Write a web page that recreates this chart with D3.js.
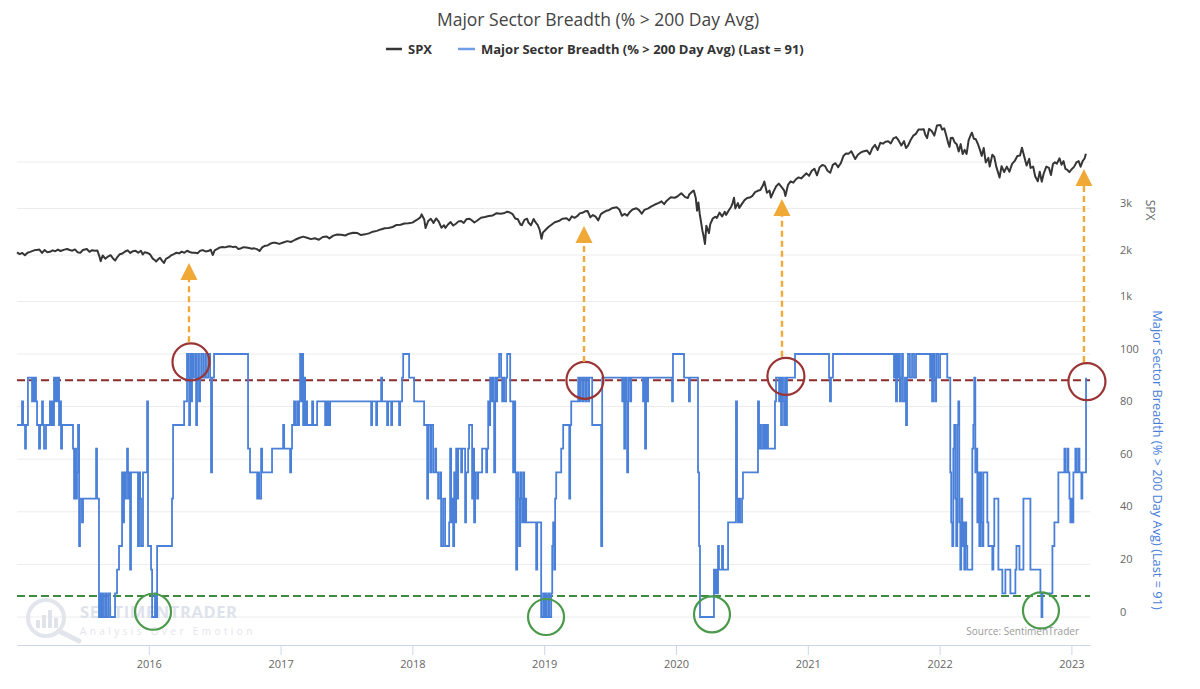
<!DOCTYPE html>
<html><head><meta charset="utf-8">
<script src="https://cdn.jsdelivr.net/npm/d3@7"></script>
<style>
body{margin:0;background:#fff;}
svg{display:block;font-family:"Open Sans",sans-serif;}
</style>
</head><body>
<svg id="c" width="1200" height="689"></svg>
<script>
// ---------------- DATA ----------------
const titleText = "Major Sector Breadth (% > 200 Day Avg)";
const seriesNames = ["SPX", "Major Sector Breadth (% > 200 Day Avg) (Last = 91)"];
const yearTicks = [2016, 2017, 2018, 2019, 2020, 2021, 2022, 2023];
const spxTicks = [1000, 2000, 3000];
const spxGrid = [1000, 2000, 3000, 4000];
const breadthTicks = [0, 20, 40, 60, 80, 100];
const upperThreshold = 90;
const lowerThreshold = 8;

// SPX: [decimal year, close]
const spx = [
[2015.00,2058],[2015.02,2020],[2015.04,2045],[2015.06,1995],[2015.08,2050],[2015.10,2068],[2015.13,2100],[2015.15,2110],
[2015.17,2117],[2015.19,2044],[2015.21,2108],[2015.23,2061],[2015.25,2068],[2015.27,2100],[2015.29,2081],[2015.31,2117],
[2015.33,2086],[2015.36,2116],[2015.38,2130],[2015.40,2107],[2015.42,2092],[2015.44,2120],[2015.46,2058],[2015.48,2046],
[2015.50,2108],[2015.53,2128],[2015.55,2068],[2015.57,2104],[2015.59,2091],[2015.61,2096],[2015.625,1971],[2015.635,1868],
[2015.65,1989],[2015.67,1921],[2015.69,1966],[2015.71,1995],[2015.73,1921],[2015.745,1881],[2015.76,1951],[2015.78,2017],
[2015.80,2033],[2015.82,2075],[2015.84,2100],[2015.86,2045],[2015.88,2083],[2015.90,2089],[2015.92,2049],[2015.94,2091],
[2015.955,2012],[2015.97,2060],[2015.99,2044],[2016.01,2012],[2016.03,1922],[2016.05,1881],[2016.055,1859],[2016.07,1906],
[2016.085,1940],[2016.10,1880],[2016.115,1829],[2016.13,1917],[2016.15,1948],[2016.17,1993],[2016.19,2019],[2016.21,2050],
[2016.23,2035],[2016.25,2072],[2016.27,2047],[2016.29,2091],[2016.31,2065],[2016.33,2050],[2016.35,2048],[2016.37,2040],
[2016.39,2090],[2016.41,2105],[2016.43,2077],[2016.45,2085],[2016.47,2113],[2016.485,2000],[2016.50,2099],[2016.52,2130],
[2016.54,2163],[2016.56,2170],[2016.58,2164],[2016.60,2182],[2016.62,2186],[2016.64,2170],[2016.66,2180],[2016.68,2127],
[2016.70,2146],[2016.72,2168],[2016.74,2160],[2016.76,2153],[2016.78,2133],[2016.80,2143],[2016.82,2126],[2016.84,2085],
[2016.86,2164],[2016.88,2198],[2016.90,2204],[2016.92,2241],[2016.94,2262],[2016.96,2263],[2016.99,2239],[2017.02,2270],
[2017.05,2298],[2017.08,2280],[2017.11,2328],[2017.14,2365],[2017.17,2395],[2017.20,2372],[2017.23,2341],[2017.26,2359],
[2017.29,2328],[2017.32,2388],[2017.35,2399],[2017.37,2357],[2017.40,2416],[2017.43,2440],[2017.46,2434],[2017.49,2419],
[2017.52,2459],[2017.55,2477],[2017.58,2475],[2017.61,2428],[2017.64,2444],[2017.67,2465],[2017.70,2502],[2017.73,2519],
[2017.76,2550],[2017.79,2575],[2017.82,2582],[2017.85,2602],[2017.88,2647],[2017.91,2652],[2017.94,2679],[2017.97,2683],
[2018.00,2696],[2018.03,2748],[2018.06,2810],[2018.07,2873],[2018.09,2762],[2018.10,2581],[2018.12,2731],[2018.14,2779],
[2018.16,2691],[2018.18,2786],[2018.20,2717],[2018.22,2588],[2018.24,2641],[2018.25,2582],[2018.27,2656],[2018.29,2708],
[2018.31,2634],[2018.33,2672],[2018.35,2723],[2018.37,2733],[2018.39,2689],[2018.41,2770],[2018.43,2780],[2018.45,2749],
[2018.47,2699],[2018.49,2736],[2018.52,2801],[2018.55,2818],[2018.58,2840],[2018.61,2850],[2018.64,2900],[2018.67,2888],
[2018.70,2905],[2018.72,2931],[2018.74,2914],[2018.76,2880],[2018.78,2785],[2018.80,2768],[2018.82,2656],[2018.83,2641],
[2018.85,2755],[2018.87,2781],[2018.88,2700],[2018.90,2641],[2018.92,2775],[2018.935,2700],[2018.95,2650],[2018.965,2546],
[2018.98,2351],[2018.99,2485],[2019.00,2510],[2019.03,2596],[2019.05,2640],[2019.08,2704],[2019.11,2731],[2019.14,2780],
[2019.17,2790],[2019.19,2743],[2019.21,2832],[2019.23,2800],[2019.25,2834],[2019.27,2895],[2019.29,2907],[2019.31,2940],
[2019.33,2945],[2019.35,2812],[2019.37,2859],[2019.39,2826],[2019.41,2744],[2019.43,2880],[2019.45,2917],[2019.47,2950],
[2019.49,2964],[2019.52,3013],[2019.55,3025],[2019.57,2980],[2019.59,2844],[2019.61,2883],[2019.63,2847],[2019.65,2926],
[2019.67,2979],[2019.70,3006],[2019.72,2966],[2019.74,2887],[2019.76,2970],[2019.79,3004],[2019.81,3040],[2019.84,3085],
[2019.87,3120],[2019.89,3153],[2019.91,3093],[2019.93,3168],[2019.96,3240],[2019.99,3231],[2020.01,3258],[2020.04,3329],
[2020.07,3244],[2020.09,3226],[2020.10,3300],[2020.13,3380],[2020.135,3386],[2020.15,3225],[2020.16,2954],[2020.17,3130],
[2020.18,2882],[2020.19,2711],[2020.20,2529],[2020.21,2398],[2020.22,2237],[2020.23,2630],[2020.25,2470],[2020.26,2663],
[2020.28,2790],[2020.30,2823],[2020.31,2797],[2020.33,2912],[2020.35,2830],[2020.37,2930],[2020.38,2863],[2020.40,2955],
[2020.42,3044],[2020.43,3122],[2020.44,3232],[2020.45,3002],[2020.47,3117],[2020.48,3009],[2020.50,3100],[2020.52,3180],
[2020.54,3224],[2020.56,3235],[2020.58,3271],[2020.60,3351],[2020.62,3380],[2020.64,3397],[2020.66,3500],[2020.67,3580],
[2020.69,3340],[2020.71,3385],[2020.72,3237],[2020.74,3363],[2020.76,3477],[2020.78,3534],[2020.80,3465],[2020.82,3390],
[2020.83,3270],[2020.85,3509],[2020.87,3585],[2020.89,3557],[2020.91,3629],[2020.93,3669],[2020.95,3647],[2020.97,3703],
[2020.99,3756],[2021.01,3701],[2021.03,3810],[2021.05,3855],[2021.07,3714],[2021.09,3887],[2021.11,3934],[2021.13,3917],
[2021.15,3811],[2021.17,3768],[2021.19,3939],[2021.21,3974],[2021.23,3889],[2021.25,3972],[2021.27,4128],[2021.29,4185],
[2021.31,4180],[2021.33,4232],[2021.36,4063],[2021.38,4155],[2021.40,4200],[2021.42,4227],[2021.45,4246],[2021.47,4166],
[2021.49,4298],[2021.51,4369],[2021.53,4258],[2021.55,4411],[2021.57,4395],[2021.59,4436],[2021.61,4448],[2021.63,4400],
[2021.65,4509],[2021.67,4537],[2021.69,4459],[2021.71,4357],[2021.73,4448],[2021.745,4300],[2021.76,4350],[2021.78,4471],
[2021.80,4566],[2021.82,4605],[2021.84,4697],[2021.86,4700],[2021.88,4704],[2021.89,4595],[2021.905,4513],[2021.92,4712],
[2021.94,4668],[2021.96,4568],[2021.98,4786],[2022.005,4797],[2022.02,4696],[2022.035,4726],[2022.05,4577],[2022.065,4410],
[2022.075,4326],[2022.085,4516],[2022.10,4521],[2022.115,4418],[2022.13,4380],[2022.145,4225],[2022.16,4384],[2022.175,4170],
[2022.19,4260],[2022.205,4173],[2022.22,4463],[2022.235,4575],[2022.245,4632],[2022.26,4500],[2022.275,4488],[2022.29,4392],
[2022.305,4271],[2022.32,4132],[2022.335,4300],[2022.35,3991],[2022.37,4088],[2022.38,3901],[2022.40,4158],[2022.415,4108],
[2022.43,3900],[2022.455,3667],[2022.47,3911],[2022.49,3785],[2022.51,3900],[2022.53,3790],[2022.55,3960],[2022.57,4023],
[2022.59,4130],[2022.61,4140],[2022.625,4305],[2022.64,4140],[2022.66,3924],[2022.68,4067],[2022.69,3873],[2022.71,3901],
[2022.725,3693],[2022.745,3586],[2022.76,3790],[2022.775,3577],[2022.79,3753],[2022.81,3901],[2022.83,3872],[2022.845,3719],
[2022.86,3956],[2022.875,3992],[2022.89,3964],[2022.91,4080],[2022.925,3941],[2022.94,4019],[2022.955,3852],[2022.97,3829],
[2022.985,3783],[2023.00,3839],[2023.02,3895],[2023.04,3999],[2023.055,4019],[2023.07,3898],[2023.085,4017],[2023.10,4076],
[2023.11,4179]
];

// Breadth: [decimal year, % of sectors above 200-day avg]
const breadth = [
[2015.000,73],[2015.038,82],[2015.046,73],[2015.061,64],[2015.068,73],[2015.083,91],[2015.114,82],[2015.121,91],
[2015.129,82],[2015.137,91],[2015.144,82],[2015.152,73],[2015.167,64],[2015.175,73],[2015.190,82],[2015.197,73],
[2015.205,64],[2015.220,73],[2015.250,82],[2015.258,73],[2015.266,82],[2015.273,73],[2015.281,91],[2015.288,82],
[2015.296,91],[2015.304,82],[2015.311,91],[2015.319,73],[2015.326,82],[2015.334,64],[2015.342,73],[2015.425,64],
[2015.433,45],[2015.440,64],[2015.448,45],[2015.455,55],[2015.463,73],[2015.471,27],[2015.478,45],[2015.493,36],
[2015.501,45],[2015.600,64],[2015.607,45],[2015.622,0],[2015.630,9],[2015.638,0],[2015.645,9],[2015.653,0],
[2015.668,9],[2015.676,0],[2015.691,9],[2015.706,0],[2015.744,9],[2015.759,18],[2015.774,27],[2015.797,55],
[2015.805,36],[2015.812,55],[2015.820,45],[2015.827,55],[2015.835,64],[2015.842,45],[2015.850,55],[2015.858,18],
[2015.865,55],[2015.918,27],[2015.926,55],[2015.934,45],[2015.941,27],[2015.956,55],[2015.987,82],[2015.994,27],
[2016.017,18],[2016.025,0],[2016.047,9],[2016.055,0],[2016.063,27],[2016.176,45],[2016.184,73],[2016.268,82],
[2016.290,100],[2016.298,91],[2016.306,73],[2016.313,100],[2016.321,82],[2016.328,100],[2016.336,91],[2016.351,100],
[2016.359,73],[2016.366,91],[2016.374,100],[2016.381,82],[2016.389,91],[2016.397,100],[2016.412,91],[2016.427,100],
[2016.434,91],[2016.450,100],[2016.465,91],[2016.472,55],[2016.480,91],[2016.495,100],
[2016.753,64],[2016.768,55],[2016.822,45],[2016.829,55],[2016.837,45],[2016.852,64],[2016.860,55],[2016.935,64],
[2017.019,73],[2017.027,64],[2017.072,55],[2017.080,64],[2017.087,73],[2017.102,82],[2017.110,73],[2017.125,82],
[2017.133,73],[2017.140,82],[2017.148,100],[2017.156,82],[2017.163,100],[2017.171,73],[2017.178,91],[2017.186,73],
[2017.193,82],[2017.201,73],[2017.239,82],[2017.247,73],[2017.277,82],[2017.338,73],[2017.345,82],[2017.353,73],
[2017.360,82],[2017.368,73],[2017.376,82],[2017.687,73],[2017.694,82],[2017.725,73],[2017.732,82],[2017.763,91],
[2017.770,82],[2017.808,73],[2017.816,82],[2017.839,73],[2017.846,82],[2017.899,73],[2017.907,82],[2017.922,91],
[2017.930,100],[2017.975,91],[2018.013,82],[2018.089,73],[2018.112,45],[2018.119,73],[2018.135,55],[2018.142,73],
[2018.157,55],[2018.173,64],[2018.180,55],[2018.195,45],[2018.210,55],[2018.218,27],[2018.233,45],[2018.248,27],
[2018.279,36],[2018.286,64],[2018.294,36],[2018.301,45],[2018.309,27],[2018.317,55],[2018.324,36],[2018.332,64],
[2018.339,45],[2018.347,64],[2018.370,55],[2018.377,64],[2018.400,36],[2018.407,55],[2018.423,64],[2018.430,73],
[2018.453,45],[2018.461,64],[2018.468,36],[2018.476,55],[2018.491,45],[2018.499,55],[2018.529,64],[2018.560,55],
[2018.567,64],[2018.575,82],[2018.582,73],[2018.590,91],[2018.597,82],[2018.605,91],[2018.613,82],[2018.620,55],
[2018.628,91],[2018.636,82],[2018.643,91],[2018.658,100],[2018.673,91],[2018.681,82],[2018.688,91],[2018.696,82],
[2018.711,91],[2018.719,100],[2018.742,82],[2018.764,55],[2018.772,82],[2018.780,55],[2018.787,18],[2018.795,55],
[2018.802,45],[2018.810,27],[2018.818,55],[2018.825,45],[2018.833,36],[2018.840,55],[2018.848,36],[2018.856,45],
[2018.863,36],[2018.939,18],[2018.947,36],[2018.977,0],[2018.992,9],[2019.000,0],[2019.007,9],[2019.015,0],
[2019.030,9],[2019.038,0],[2019.053,9],[2019.061,27],[2019.068,36],[2019.076,18],[2019.083,45],[2019.091,55],
[2019.129,64],[2019.144,73],[2019.190,45],[2019.197,73],[2019.205,82],[2019.258,91],[2019.265,82],[2019.273,91],
[2019.288,82],[2019.296,91],[2019.311,82],[2019.319,91],[2019.334,82],[2019.341,91],[2019.364,73],[2019.432,27],
[2019.440,91],[2019.592,82],[2019.599,91],[2019.607,64],[2019.614,91],[2019.622,82],[2019.629,55],[2019.637,91],
[2019.652,82],[2019.660,91],[2019.750,82],[2019.758,91],[2019.765,64],[2019.773,91],[2019.781,82],[2019.788,91],
[2019.970,82],[2019.977,100],[2020.061,91],[2020.098,82],[2020.106,91],[2020.167,55],[2020.175,27],[2020.182,0],
[2020.288,18],[2020.296,9],[2020.303,18],[2020.311,9],[2020.319,27],[2020.326,18],[2020.349,27],[2020.357,18],
[2020.395,36],[2020.455,82],[2020.463,45],[2020.470,36],[2020.478,45],[2020.486,36],[2020.501,45],[2020.508,55],
[2020.622,82],[2020.630,64],[2020.637,73],[2020.645,64],[2020.660,73],[2020.668,64],[2020.675,73],[2020.683,64],
[2020.691,73],[2020.698,64],[2020.751,82],[2020.759,91],[2020.782,82],[2020.789,91],[2020.797,73],[2020.804,91],
[2020.812,82],[2020.820,73],[2020.827,91],[2020.835,73],[2020.842,91],[2020.903,100],[2021.161,91],[2021.168,82],
[2021.176,91],[2021.191,100],
[2021.646,100],[2021.654,91],[2021.661,100],[2021.669,82],[2021.677,100],[2021.684,91],[2021.692,100],[2021.699,82],
[2021.707,91],[2021.715,100],[2021.722,82],[2021.737,91],[2021.745,73],[2021.753,91],[2021.760,100],[2021.775,91],
[2021.791,100],[2021.806,91],[2021.821,100],[2021.928,91],[2021.936,100],[2021.943,82],[2021.951,100],[2021.959,91],
[2021.966,82],[2021.974,100],[2021.989,91],[2022.004,100],[2022.058,91],[2022.081,55],[2022.088,36],[2022.096,27],
[2022.104,64],[2022.111,73],[2022.119,45],[2022.126,27],[2022.134,73],[2022.142,82],[2022.149,36],[2022.157,18],
[2022.164,45],[2022.172,27],[2022.180,36],[2022.187,18],[2022.195,36],[2022.202,27],[2022.210,18],[2022.248,64],
[2022.256,73],[2022.263,91],[2022.271,55],[2022.279,64],[2022.286,36],[2022.294,55],[2022.301,27],[2022.309,55],
[2022.317,36],[2022.324,27],[2022.332,55],[2022.362,36],[2022.370,27],[2022.400,18],[2022.408,27],[2022.415,45],
[2022.446,18],[2022.476,9],[2022.499,18],[2022.537,9],[2022.575,18],[2022.583,27],[2022.606,18],[2022.636,45],
[2022.689,18],[2022.765,9],[2022.773,0],[2022.780,9],[2022.856,27],[2022.871,36],[2022.901,55],[2022.947,64],
[2022.954,55],[2022.970,64],[2022.977,55],[2022.985,45],[2022.992,36],[2023.000,45],[2023.008,36],[2023.015,55],
[2023.030,64],[2023.038,55],[2023.053,64],[2023.061,55],[2023.076,45],[2023.083,55],[2023.111,91]
];

// Annotations: [decimal year, breadth value]
const redCircles = [[2016.320,97],[2019.309,90],[2020.834,91.5],[2023.118,89.5]];
const greenCircles = [[2016.032,2],[2019.014,0],[2020.273,1],[2022.769,2.5]];
// Arrows: [decimal year, breadth value at base, SPX value at tip]
const arrows = [[2016.305,104.5,1828],[2019.302,97,2624],[2020.804,99,3204],[2023.095,97,3849]];

// ---------------- CHART ----------------
const svg = d3.select("#c");
const L = 17, R = 1090;
const x = d3.scaleLinear().domain([2015, 2015 + (R - L) / 131.8]).range([L, R]);
const yB = d3.scaleLinear().domain([0, 100]).range([617, 354]);
const yS = d3.scaleLinear().domain([0, 4000]).range([348, 162]);

const blue = "#4a80d8", gray = "#363636";

// gridlines
svg.append("g").selectAll("line").data(spxGrid).join("line")
  .attr("x1", L).attr("x2", R).attr("y1", d => yS(d)).attr("y2", d => yS(d))
  .attr("stroke", "#ececec").attr("stroke-width", 1);
svg.append("g").selectAll("line").data(breadthTicks).join("line")
  .attr("x1", L).attr("x2", R).attr("y1", d => yB(d)).attr("y2", d => yB(d))
  .attr("stroke", "#ececec").attr("stroke-width", 1);

// watermark
const wm = svg.append("g").attr("opacity", 0.9);
wm.append("circle").attr("cx", 46).attr("cy", 618).attr("r", 18).attr("fill", "none").attr("stroke", "#dfe4ea").attr("stroke-width", 4);
wm.append("line").attr("x1", 59).attr("y1", 631).attr("x2", 79).attr("y2", 641).attr("stroke", "#dfe4ea").attr("stroke-width", 5).attr("stroke-linecap", "round");
[[36,8],[42,13],[48,18],[54,10]].forEach(([bx,h]) => wm.append("rect").attr("x", bx).attr("y", 628 - h).attr("width", 4).attr("height", h).attr("fill", "#dde2e8"));
wm.append("text").attr("x", 80).attr("y", 618).attr("font-size", 16.5).attr("font-weight", 700).attr("letter-spacing", 0.6).attr("fill", "#dbe1e9").text("SENTIMENTRADER");
wm.append("text").attr("x", 80).attr("y", 635).attr("font-size", 10).attr("letter-spacing", 3.4).attr("fill", "#dfe3ea").text("Analysis Over Emotion");

// threshold lines
svg.append("line").attr("x1", L).attr("x2", R).attr("y1", yB(upperThreshold)).attr("y2", yB(upperThreshold))
  .attr("stroke", "#8e2b2b").attr("stroke-width", 2).attr("stroke-dasharray", "8,4");
svg.append("line").attr("x1", L).attr("x2", R).attr("y1", yB(lowerThreshold)).attr("y2", yB(lowerThreshold))
  .attr("stroke", "#3f8a3f").attr("stroke-width", 2).attr("stroke-dasharray", "8,4");

// series
const spxLine = d3.line().x(d => x(d[0])).y(d => yS(d[1]));
svg.append("path").datum(spx).attr("d", spxLine).attr("fill", "none").attr("stroke", gray).attr("stroke-width", 2).attr("stroke-linejoin", "round");
const bLine = d3.line().x(d => x(d[0])).y(d => yB(d[1])).curve(d3.curveStepAfter);
svg.append("path").datum(breadth).attr("d", bLine).attr("fill", "none").attr("stroke", blue).attr("stroke-width", 1.8);

// annotations
svg.append("g").selectAll("circle").data(redCircles).join("circle")
  .attr("cx", d => x(d[0])).attr("cy", d => yB(d[1])).attr("r", 18.5)
  .attr("fill", "none").attr("stroke", "#9b3434").attr("stroke-width", 2.2);
svg.append("g").selectAll("circle").data(greenCircles).join("circle")
  .attr("cx", d => x(d[0])).attr("cy", d => yB(d[1])).attr("r", 18)
  .attr("fill", "none").attr("stroke", "#4b9a4b").attr("stroke-width", 2.2);
const orange = "#f0a836";
const ag = svg.append("g");
arrows.forEach(([t, bv, sv]) => {
  const ax = x(t), tip = yS(sv), base = tip + 17;
  ag.append("line").attr("x1", ax).attr("x2", ax).attr("y1", yB(bv)).attr("y2", base)
    .attr("stroke", orange).attr("stroke-width", 2.4).attr("stroke-dasharray", "6,4");
  ag.append("path").attr("d", `M${ax},${tip}L${ax - 8.5},${base}L${ax + 8.5},${base}Z`).attr("fill", orange);
});

// x axis
const xa = svg.append("g").attr("transform", "translate(0,645)")
  .call(d3.axisBottom(x).tickValues(yearTicks).tickFormat(d3.format("d")).tickSize(10).tickSizeOuter(0).tickPadding(5));
xa.select(".domain").attr("stroke", "#ccd6eb");
xa.selectAll(".tick line").attr("stroke", "#ccd6eb");
xa.selectAll("text").attr("fill", "#666").attr("font-size", 11).attr("font-family", "Open Sans");

// y axes
const ya1 = svg.append("g").attr("transform", "translate(1117,0)")
  .call(d3.axisRight(yS).tickValues(spxTicks).tickFormat(d => d / 1000 + "k").tickSize(0).tickPadding(3));
const ya2 = svg.append("g").attr("transform", "translate(1117,0)")
  .call(d3.axisRight(yB).tickValues(breadthTicks).tickSize(0).tickPadding(3));
[ya1, ya2].forEach(g => {
  g.select(".domain").remove();
  g.selectAll("text").attr("fill", "#666").attr("font-size", 11).attr("font-family", "Open Sans").attr("dy", "-2px");
});

svg.append("text").attr("transform", "translate(1146,210) rotate(90)").attr("text-anchor", "middle")
  .attr("font-size", 12).attr("fill", "#666").text(seriesNames[0]);
svg.append("text").attr("transform", "translate(1153,460) rotate(90)").attr("text-anchor", "middle")
  .attr("font-size", 12.8).attr("fill", blue).text(seriesNames[1]);

// title
svg.append("text").attr("x", 598).attr("y", 26).attr("text-anchor", "middle")
  .attr("font-size", 17.5).attr("fill", "#444").text(titleText);

// legend
const lg = svg.append("g");
lg.append("line").attr("x1", 386).attr("x2", 402).attr("y1", 49).attr("y2", 49).attr("stroke", gray).attr("stroke-width", 2.5);
lg.append("text").attr("x", 408).attr("y", 53.5).attr("font-size", 13).attr("font-weight", 700).attr("fill", "#333").text(seriesNames[0]);
lg.append("line").attr("x1", 458).attr("x2", 475).attr("y1", 49).attr("y2", 49).attr("stroke", "#6f9de6").attr("stroke-width", 2.5);
lg.append("text").attr("x", 481).attr("y", 53.5).attr("font-size", 13).attr("font-weight", 700).attr("fill", "#333").text(seriesNames[1]);

// source
svg.append("text").attr("x", 1079).attr("y", 635).attr("text-anchor", "end")
  .attr("font-size", 10).attr("fill", "#999").text("Source: SentimenTrader");
</script>
</body></html>
